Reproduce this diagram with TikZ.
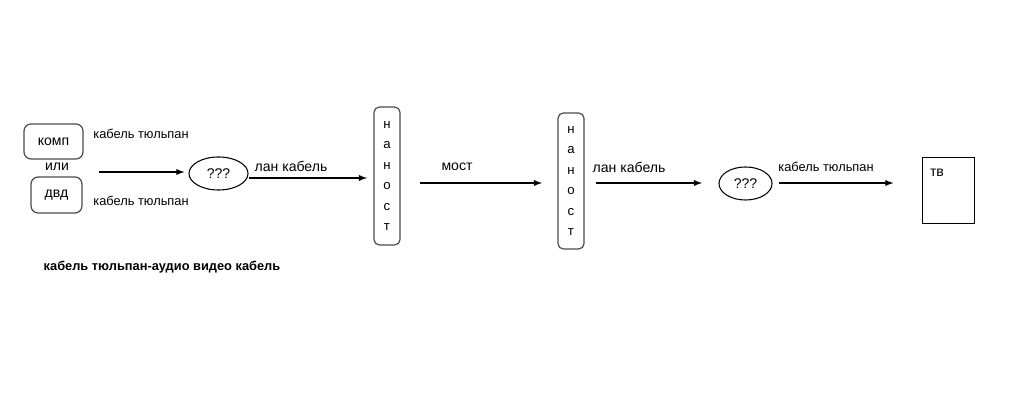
\documentclass[tikz,border=0pt]{standalone}
\usepackage{fontspec}
\setmainfont{Liberation Sans}
\usetikzlibrary{shapes.geometric}
\tikzset{>=latex}
\tikzset{
  dev/.style={draw,rounded corners=4pt,line width=0.7pt,black!70,text=black,inner sep=0pt},
  nanos/.style={draw,rounded corners=3pt,line width=0.7pt,black!70,text=black,
    align=center,minimum width=14.8pt,inner sep=0pt,font=\fontsize{7.5}{11.7}\selectfont},
  conv/.style={draw,ellipse,inner sep=0pt,font=\fontsize{8}{9}\selectfont},
  lbl/.style={font=\fontsize{8}{9}\selectfont,inner sep=0pt},
  slbl/.style={font=\fontsize{7.3}{9}\selectfont,inner sep=0pt},
}

\begin{document}
\begin{tikzpicture}[x=0.02cm,y=-0.02cm,line width=0.6pt]
  \useasboundingbox (0,0) rectangle (1024,404);
  % sources
  \node[dev,minimum width=33.6pt,minimum height=19.9pt,font=\fontsize{8}{9}\selectfont] (komp) at (53.5,141.5) {комп};
  \node[lbl] (ili) at (57,167) {или};
  \node[dev,minimum width=29pt,minimum height=20.5pt,font=\fontsize{8}{9}\selectfont] (dvd) at (56.5,195) {двд};
  \node[slbl] (tul1) at (141,134) {кабель тюльпан};
  \node[slbl] (tul2) at (141,201) {кабель тюльпан};
  % converters and nanostations
  \node[conv,minimum width=33.6pt,minimum height=18.8pt] (q1) at (218.5,173.5) {???};
  \node[nanos,minimum height=78.5pt] (nan1) at (387,176) {н\\а\\н\\о\\с\\т};
  \node[nanos,minimum height=77.4pt] (nan2) at (571,181) {н\\а\\н\\о\\с\\т};
  \node[conv,minimum width=30.2pt,minimum height=18.8pt] (q2) at (745.5,183.5) {???};
  \node[draw,line width=0.5pt,minimum width=29.6pt,minimum height=37.6pt,inner sep=0pt] (tv) at (948,190) {};
  \node[lbl] at (937,173) {тв};
  % labels
  \node[lbl] (lan1) at (291,166) {лан кабель};
  \node[lbl] (most) at (457,167) {мост};
  \node[lbl] (lan2) at (629,167) {лан кабель};
  \node[slbl] (tul3) at (826,167) {кабель тюльпан};
  \node[font=\bfseries\fontsize{7.3}{9}\selectfont,inner sep=0pt] (note) at (162,267) {кабель тюльпан-аудио видео кабель};
  % connectors
  \coordinate (src) at (99,172);
  \coordinate (m1) at (420,183);
  \coordinate (m2) at (542,183);
  \coordinate (t1) at (779,183);
  \draw[->,shorten >=2.3pt] (src) -- (src -| q1.west);
  \draw[->] (q1.east |- 0,178) -- (367,178);
  \draw[->] (m1) -- (m2);
  \draw[->] (nan2.east |- 0,183) ++(11,0) -- (702,183);
  \draw[->,shorten >=16pt] (t1) -- (t1 -| tv.west);
\end{tikzpicture}
\end{document}
